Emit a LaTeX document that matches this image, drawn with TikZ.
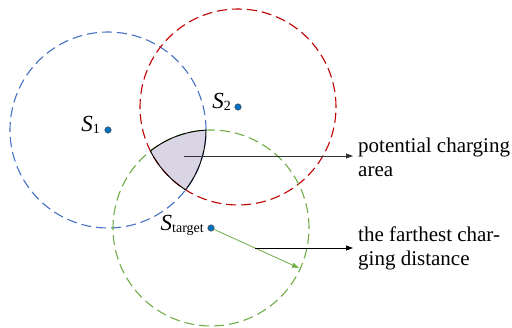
\documentclass[tikz,border=0pt]{standalone}
\usepackage{fontspec}
\setmainfont{Liberation Serif}
\usetikzlibrary{arrows.meta,calc}
\definecolor{cblue}{RGB}{68,114,196}
\definecolor{cred}{RGB}{192,0,0}
\definecolor{cgreen}{RGB}{112,173,71}
\definecolor{cdot}{RGB}{0,112,192}
\definecolor{carea}{RGB}{218,213,228}
\begin{document}
\begin{tikzpicture}[x=1pt,y=-1pt,
  rangecirc/.style={line width=1.1pt, dash pattern=on 10pt off 5pt},
  sensor/.style={circle, fill=cdot, draw=black!70, line width=0.5pt, inner sep=0pt, minimum size=6.5pt},
  slabel/.style={inner sep=0pt, font=\fontsize{23}{24}\selectfont},
  txt/.style={inner sep=0pt, align=left, font=\fontsize{21}{24}\selectfont},
  pointer/.style={line width=0.8pt, -{Triangle[length=7pt,width=5pt]}}]
\useasboundingbox (0,0) rectangle (512,328);
\def\sub#1{\raisebox{-2pt}{\fontsize{14}{14}\selectfont #1}}
% shaded intersection
\begin{scope}
  \clip (108,130) circle[radius=98pt];
  \clip (238,107) circle[radius=98pt];
  \fill[carea] (211,228) circle[radius=98pt];
\end{scope}
% range circles
\draw[rangecirc, cblue] (108,130) circle[radius=98pt];
\draw[rangecirc, cred] (238,107) circle[radius=98pt];
\draw[rangecirc, cgreen] (211,228) circle[radius=98pt];
% outline of the intersection
\begin{scope}
  \clip (238,107) circle[radius=98pt];
  \clip (211,228) circle[radius=98pt];
  \draw[line width=0.9pt] (108,130) circle[radius=98pt];
\end{scope}
\begin{scope}
  \clip (108,130) circle[radius=98pt];
  \clip (211,228) circle[radius=98pt];
  \draw[line width=0.9pt] (238,107) circle[radius=98pt];
\end{scope}
\begin{scope}
  \clip (108,130) circle[radius=98pt];
  \clip (238,107) circle[radius=98pt];
  \draw[line width=0.9pt] (211,228) circle[radius=98pt];
\end{scope}
% sensors
\node[sensor] (s1) at (108,130) {};
\node[sensor] (s2) at (238,107) {};
\node[sensor] (st) at (211,228) {};
\node[slabel, anchor=base east] (l1) at (100,132) {\textit{S}\sub{1}};
\node[slabel, anchor=base east] (l2) at (231,109) {\textit{S}\sub{2}};
\node[slabel, anchor=base east] (lt) at (204,231) {\textit{S}\sub{target}};
% labels
\node[txt, anchor=west] (ta) at (358,157) {potential charging\\area};
\node[txt, anchor=west] (td) at (358,248) {the farthest char-\\ging distance};
% pointers
\coordinate (areapt) at (184,156);
\coordinate (areaend) at (353,156);
\draw[pointer, black!80] (areapt) -- (areaend);
\coordinate (gtip) at (299,268);
\draw[pointer, cgreen] (st) -- (gtip);
\coordinate (mid) at ($(st)!0.5!(gtip)$);
\coordinate (midend) at (mid -| areaend);
\draw[pointer] (mid) -- (midend);
\end{tikzpicture}
\end{document}
